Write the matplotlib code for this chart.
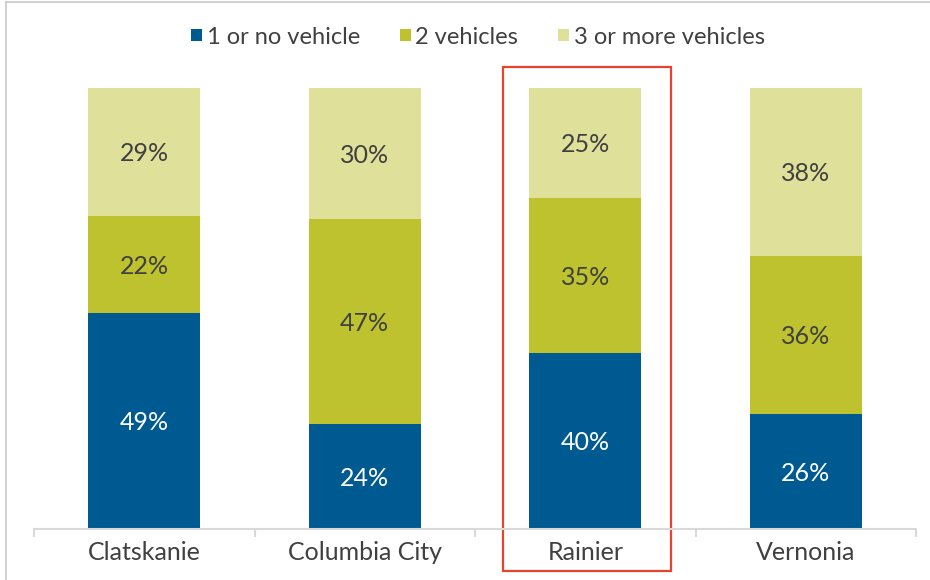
import matplotlib
matplotlib.use('Agg')
import matplotlib.pyplot as plt
import numpy as np
from matplotlib.patches import Patch, Rectangle
from matplotlib.lines import Line2D

places = ['Clatskanie', 'Columbia City', 'Rainier', 'Vernonia']
series = ['1 or no vehicle', '2 vehicles', '3 or more vehicles']
one_or_none = [49, 24, 40, 26]
two = [22, 47, 35, 36]
three_plus = [29, 30, 25, 38]

colors = ['#005a92', '#bec22f', '#dfe09a']
text_dark = '#404040'

plt.rcParams['font.family'] = ['Lato', 'DejaVu Sans']

fig = plt.figure(figsize=(9.3, 5.8), dpi=100)
ax = fig.add_axes([34 / 930, 1 - 529 / 580, (916 - 34) / 930, (529 - 88) / 580])

vals = np.array([one_or_none, two, three_plus], dtype=float)
totals = vals.sum(axis=0)
shares = vals / totals  # 100% stacked
x = np.arange(len(places))
bottom = np.zeros(len(places))
for k in range(3):
    ax.bar(x, shares[k], 0.51, bottom=bottom, color=colors[k], linewidth=0)
    for i in range(len(places)):
        ax.text(x[i], bottom[i] + shares[k][i] / 2 - 0.004, f'{int(vals[k][i])}%',
                ha='center', va='center', fontsize=18,
                color='white' if k == 0 else text_dark)
    bottom += shares[k]

ax.set_xlim(-0.5, len(places) - 0.5)
ax.set_ylim(0, 1)
ax.set_yticks([])
for s in ['left', 'right', 'top']:
    ax.spines[s].set_visible(False)
ax.spines['bottom'].set_color('#d9d9d9')
ax.spines['bottom'].set_linewidth(1.5)
ax.set_xticks(x)
ax.set_xticklabels(places, fontsize=18, color=text_dark)
ax.tick_params(axis='x', which='major', length=0, pad=9)
ax.set_xticks(np.arange(-0.5, len(places)), minor=True)
ax.tick_params(axis='x', which='minor', length=6, width=1.5, color='#d9d9d9')

# highlight box around Rainier
ax.add_patch(Rectangle((1.627, -0.095), 0.762, 1.143, fill=False,
                       edgecolor='#e8432f', linewidth=1.6, clip_on=False))

handles = [Patch(facecolor=c, edgecolor='none') for c in colors]
fig.legend(handles, series, loc='center', bbox_to_anchor=(478 / 930, 1 - 37 / 580),
           ncol=3, frameon=False, fontsize=17, handlelength=0.45, handleheight=0.45,
           handletextpad=0.2, columnspacing=1.7, labelcolor=text_dark)

# slide frame edges
fig.add_artist(Line2D([6 / 930, 6 / 930], [0, 1 - 2 / 580], color='#c8c8c8', lw=1.2))
fig.add_artist(Line2D([6 / 930, 1], [1 - 2 / 580, 1 - 2 / 580], color='#c8c8c8', lw=1.2))

fig.savefig('out.png', dpi=100, facecolor='white')
